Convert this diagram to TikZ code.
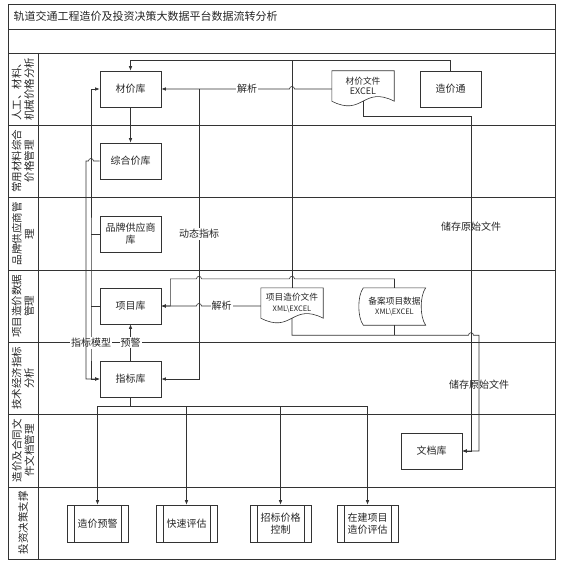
\documentclass[tikz,border=0pt]{standalone}
\usepackage{fontspec}
\setmainfont{Noto Sans CJK SC}
\usetikzlibrary{arrows.meta,calc}

% document shape: wavy bottom
\newcommand{\docshape}[1]{%
  \draw[wire] (#1.south west) -- (#1.north west) -- (#1.north east) -- (#1.south east)
    .. controls ($(#1.south)+(0,-16)$) and ($(#1.south)+(0,16)$) .. (#1.south west);}
% stored data shape: both sides bent to the left
\newcommand{\storeshape}[1]{%
  \draw[wire] (#1.north west) -- (#1.north east)
    .. controls ($(#1.north east)+(-6,8)$) and ($(#1.south east)+(-6,-8)$) .. (#1.south east)
    -- (#1.south west)
    .. controls ($(#1.south west)+(-6,-8)$) and ($(#1.north west)+(-6,8)$) .. (#1.north west) -- cycle;}

\begin{document}
\begin{tikzpicture}[
    x=1pt, y=-1pt,
    every node/.style={font=\fontsize{10}{12}\selectfont, text=black!85},
    wire/.style={draw=black!80, line width=0.6pt},
    tip/.style={-{Latex[length=4.5pt,width=3.5pt]}},
    arr/.style={wire, tip},
    box/.style={wire, minimum width=61, minimum height=36, align=center, inner sep=1pt},
    pbox/.style={box, minimum height=37,
        path picture={
            \draw[wire] ([xshift=7pt]path picture bounding box.north west) -- ([xshift=7pt]path picture bounding box.south west);
            \draw[wire] ([xshift=-7pt]path picture bounding box.north east) -- ([xshift=-7pt]path picture bounding box.south east);
        }},
    docbox/.style={minimum width=62, minimum height=30, align=center, inner sep=0pt,
        font=\fontsize{8.7}{10.5}\selectfont},
    lbl/.style={fill=white, inner sep=1pt},
    lanelbl/.style={rotate=90, align=center, font=\fontsize{10.5}{12.5}\selectfont},
]

% Lane geometry
\def\yTop{53}
\def\laneH{72.3}
\def\xL{8}      % frame left
\def\xR{555}    % frame right
\def\xLane{38}  % lane title column

% Bus positions
\def\xA{91}   % left bus
\def\xB{86}   % second left bus
\def\xC{199}  % dynamic index line
\def\xD{292}  % file line
\def\xE{471}  % store line 1
\def\xF{479}  % store line 2
\def\hop{2.5}

\useasboundingbox (0,0) rectangle (562,564);

% --- Frame and lanes ---
\draw[wire, line width=0.8pt] (\xL,4) rectangle (\xR,559);
\draw[wire] (\xL,29) -- (\xR,29);
\draw[wire] (\xL,\yTop) -- (\xR,\yTop);
\draw[wire] (\xLane,\yTop) -- (\xLane,559);
\foreach \i in {1,...,6}
    \draw[wire] (\xL,{\yTop+\i*\laneH}) -- (\xR,{\yTop+\i*\laneH});

\node[anchor=west, font=\fontsize{11}{13}\selectfont] (title) at (10,16)
    {轨道交通工程造价及投资决策大数据平台数据流转分析};

\foreach \i/\txt in {1/{人工、材料、\\机械价格分析}, 2/{常用材料综合\\价格管理},
        3/{品牌供应商管\\理}, 4/{项目造价数据\\管理}, 5/{技术经济指标\\分析},
        6/{造价及合同文\\件文档管理}, 7/{投资决策支撑}}
    \node[lanelbl] (lane\i) at (23,{\yTop+(\i-0.5)*\laneH}) {\txt};

\coordinate (busA) at (\xA,0);
\coordinate (busB) at (\xB,0);
\coordinate (busC) at (\xC,0);
\coordinate (busD) at (\xD,0);
\coordinate (busE) at (\xE,0);
\coordinate (busF) at (\xF,0);

% --- Libraries ---
\node[box] (cjk) at (130.5,89) {材价库};
\node[box] (zhjk) at (130.5,161) {综合价库};
\node[box] (ppk) at (130.5,234) {品牌供应商\\库};
\node[box] (xmk) at (130.5,306) {项目库};
\node[box] (zbk) at (130.5,379) {指标库};
\node[box] (wdk) at (431.5,451) {文档库};

% --- Sources ---
\node[docbox] (cjwj) at (363,86) {材价文件\\{\fontsize{9}{11}\selectfont EXCEL}};
\docshape{cjwj}
\node[box] (zjt) at (450.5,89) {造价通};
\node[docbox] (xmwj) at (292,303) {项目造价文件\\{\fontsize{7.5}{9}\selectfont XML\textbackslash EXCEL}};
\docshape{xmwj}
\node[docbox, minimum height=37] (baxm) at (394.5,306.5) {备案项目数据\\{\fontsize{7.5}{9}\selectfont XML\textbackslash EXCEL}};
\storeshape{baxm}

% --- Decision support ---
\node[pbox] (yj) at (97.5,523.5) {造价预警};
\node[pbox] (kspg) at (186.5,523.5) {快速评估};
\node[pbox] (zbkz) at (280.5,523.5) {招标价格\\控制};
\node[pbox] (zjpg) at (367.5,523.5) {在建项目\\造价评估};

% --- Connectors ---
\draw[arr] (cjk) -- (zhjk);
\draw[arr] (zjt.north) -- ++(0,-10) coordinate (tb) -| (cjk.north);
\draw[wire] (xmwj.north) -- (xmwj.north |- tb);

\draw[arr] (cjwj.west |- cjk.east) -- ($(cjk.east -| busD)+(\hop,0)$)
    arc[start angle=0, end angle=180, radius=2.5pt] -- node[lbl, pos=0.33] {解析} (cjk.east);
\draw[arr] (cjk.east -| busC) -- node[lbl] {动态指标} (zbk.east -| busC) -- (zbk.east);

\draw[arr] (baxm.north) -- ++(0,-9) coordinate (pb) -- ($(pb -| busD)+(\hop,0)$)
    arc[start angle=0, end angle=180, radius=2.5pt] -- ($(pb -| busC)+(\hop,0)$)
    arc[start angle=0, end angle=180, radius=2.5pt] -- ($(pb -| xmk.east)+(9,0)$) |- (xmk.east);
\draw[arr] (xmwj.west |- xmk.east) -- node[lbl, pos=0.66] {解析} ($(xmk.east -| busC)+(\hop,0)$)
    arc[start angle=0, end angle=180, radius=2.5pt] -- (xmk.east);

\draw[arr] (zbk) -- node[lbl] {预警} (xmk);

% left buses
\draw[wire, {Latex[length=4.5pt,width=3.5pt]}-{Latex[length=4.5pt,width=3.5pt]}]
    (cjk.west) -| ($(zbk.west -| busA)+(0,-36)$) node[lbl] {指标模型} |- (zbk.west);
\draw[wire] (ppk.west) -- (ppk.west -| busA);
\draw[wire] (xmk.west) -- (xmk.west -| busA);
\draw[arr] (zhjk.west) -- ($(zhjk.west -| busA)+(\hop,0)$)
    arc[start angle=0, end angle=180, radius=2.5pt] -- (zhjk.west -| busB) |- (zbk.west);

% to archive
\draw[arr] (cjwj.south) -- ++(0,15) coordinate (s1) -- (s1 -| busE)
    -- node[pos=0.33] {储存原始文件} (wdk.east -| busE) -- (wdk.east);
\draw[arr] (xmwj.south) -- ++(0,17) coordinate (s2) -- ($(s2 -| busE)+(-\hop,0)$)
    arc[start angle=180, end angle=0, radius=2.5pt] -- (s2 -| busF)
    -- node[pos=0.43] {储存原始文件} (wdk.east -| busF) -- (wdk.east);
\draw[wire] (baxm.south) -- (baxm.south |- s2);

% index library to decisions
\draw[wire] (zbk.south) -- ++(0,9) coordinate (dist);
\draw[wire] (dist -| yj) -- (dist -| zjpg);
\foreach \n in {yj,kspg,zbkz,zjpg}
    \draw[arr] (dist -| \n) -- (\n.north);

\end{tikzpicture}
\end{document}
